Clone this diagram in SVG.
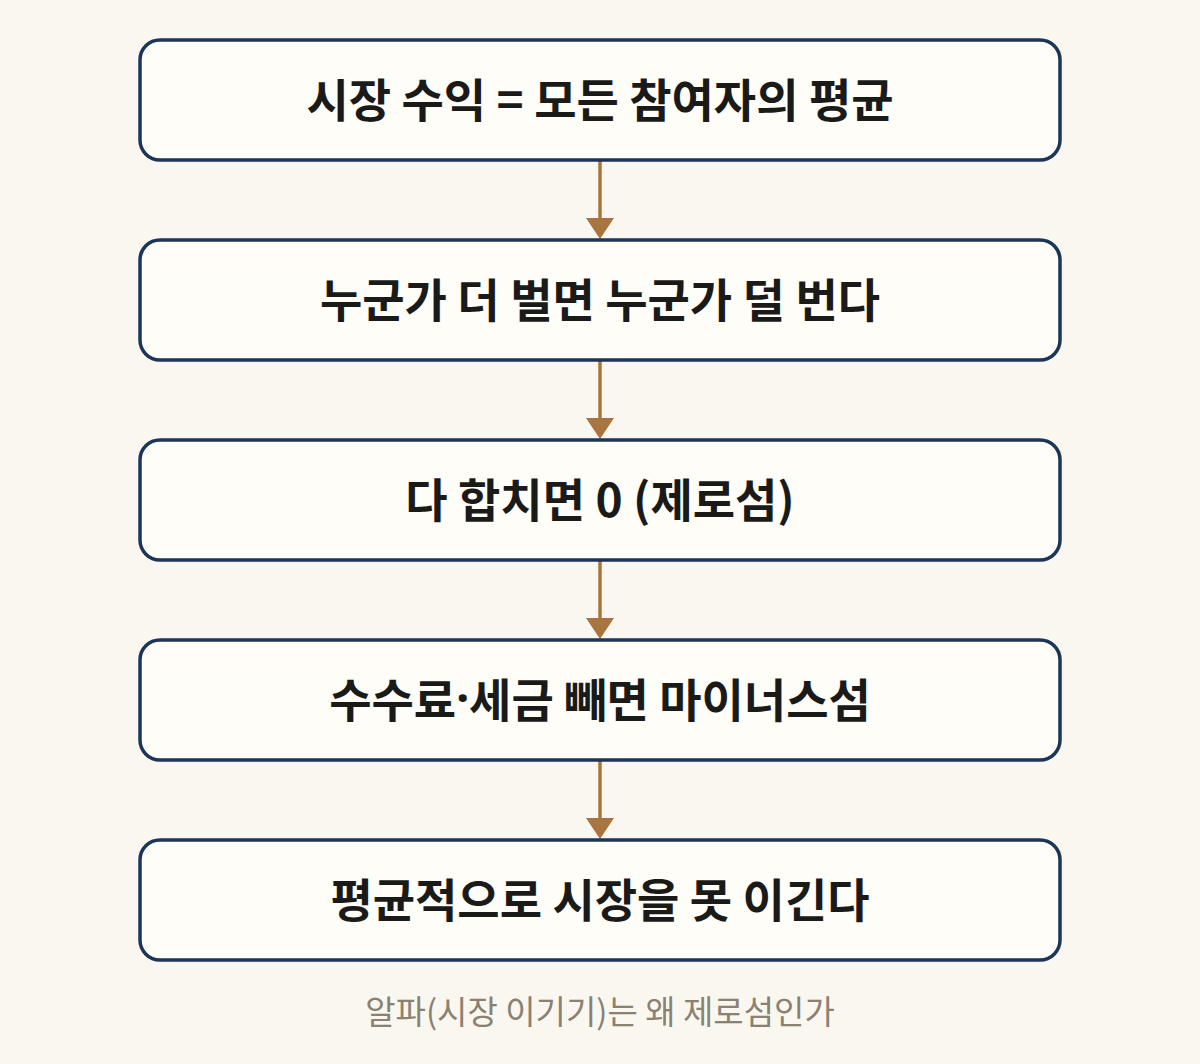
<svg xmlns="http://www.w3.org/2000/svg" width="1200" height="1064" viewBox="0 0 1200 1064">
<defs>
<style>
.box{fill:#fefdf8;stroke:#1c365a;stroke-width:3.5}
.lbl{font-family:"Noto Sans CJK KR","Noto Sans",sans-serif;font-weight:700;font-size:46px;fill:#1a1a18;text-anchor:middle;dominant-baseline:central}
.cap{font-family:"Noto Sans CJK KR","Noto Sans",sans-serif;font-weight:400;font-size:33px;fill:#8a8172;text-anchor:middle;dominant-baseline:central}
.edge{stroke:#a8743f;stroke-width:3.5;fill:none}
.dot{font-family:"Noto Sans","DejaVu Sans",sans-serif}
</style>
</defs>
<rect width="1200" height="1064" fill="#f9f7f0"/>
<g id="connectors">
<line class="edge" x1="600" y1="160" x2="600" y2="220"/>
<path d="M586,218 L614,218 L600,239 Z" fill="#a8743f"/>
<line class="edge" x1="600" y1="360" x2="600" y2="420"/>
<path d="M586,418 L614,418 L600,439 Z" fill="#a8743f"/>
<line class="edge" x1="600" y1="560" x2="600" y2="620"/>
<path d="M586,618 L614,618 L600,639 Z" fill="#a8743f"/>
<line class="edge" x1="600" y1="760" x2="600" y2="820"/>
<path d="M586,818 L614,818 L600,839 Z" fill="#a8743f"/>
</g>
<g id="node1"><rect class="box" x="140" y="40" width="920" height="120" rx="20"/><text class="lbl" x="600" y="97">시장 수익 = 모든 참여자의 평균</text></g>
<g id="node2"><rect class="box" x="140" y="240" width="920" height="120" rx="20"/><text class="lbl" x="600" y="297">누군가 더 벌면 누군가 덜 번다</text></g>
<g id="node3"><rect class="box" x="140" y="440" width="920" height="120" rx="20"/><text class="lbl" x="600" y="497">다 합치면 0 (제로섬)</text></g>
<g id="node4"><rect class="box" x="140" y="640" width="920" height="120" rx="20"/><text class="lbl" x="600" y="697">수수료<tspan class="dot">·</tspan>세금 빼면 마이너스섬</text></g>
<g id="node5"><rect class="box" x="140" y="840" width="920" height="120" rx="20"/><text class="lbl" x="600" y="897">평균적으로 시장을 못 이긴다</text></g>
<g id="caption"><text class="cap" x="600" y="1010">알파(시장 이기기)는 왜 제로섬인가</text></g>
</svg>
